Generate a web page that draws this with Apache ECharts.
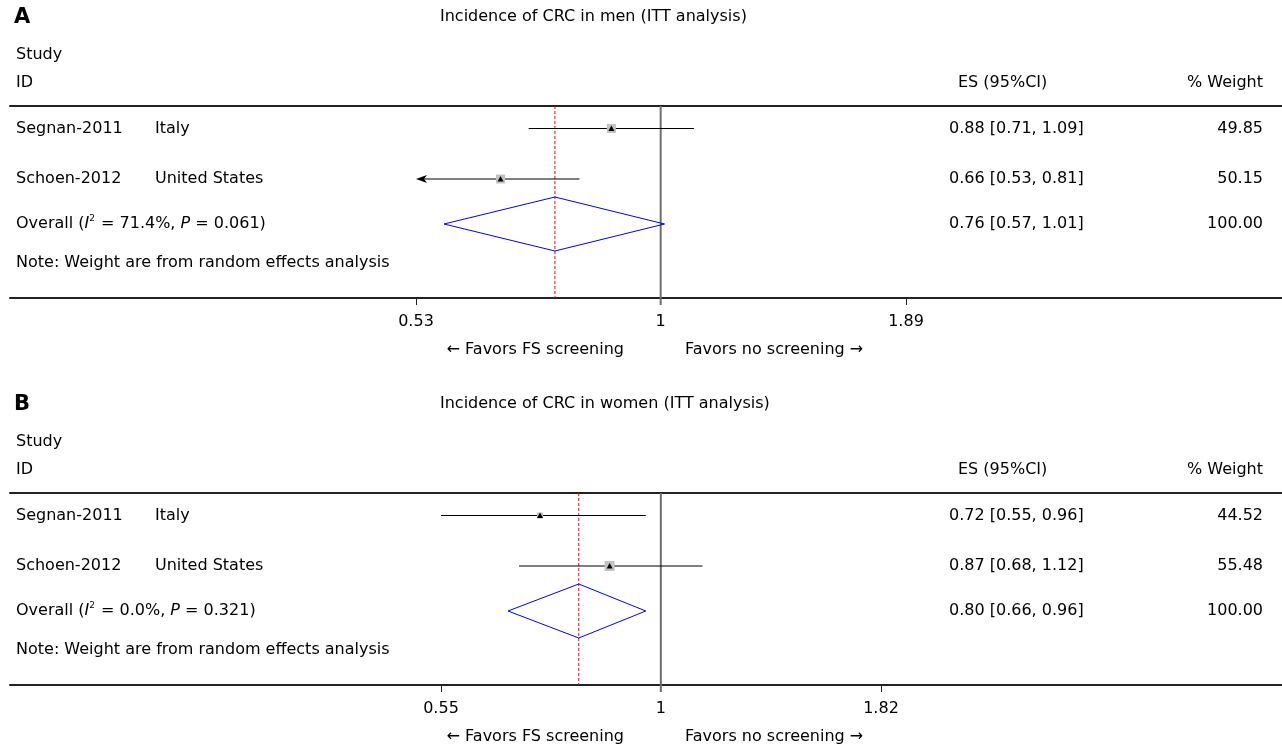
<!DOCTYPE html>
<html><head><meta charset="utf-8">
<script src="https://cdn.jsdelivr.net/npm/echarts@6/dist/echarts.min.js"></script>
<style>html,body{margin:0;padding:0;background:#fff}#c{width:1282px;height:745px}</style>
</head><body><div id="c"></div>
<script>
// ---------------- DATA ----------------
const studies = ['Segnan-2011', 'Schoen-2012'];
const countries = ['Italy', 'United States'];
const panelLetters = ['A', 'B'];
const titles = ['Incidence of CRC in men (ITT analysis)', 'Incidence of CRC in women (ITT analysis)'];

const esA = [0.88, 0.66];
const loA = [0.71, 0.53];
const hiA = [1.09, 0.81];
const weightA = ['49.85', '50.15'];
const arrowLeftA = [false, true];
const overallA = [0.76, 0.57, 1.01];   // ES, lower, upper
const i2A = '71.4%';
const pA = '0.061';
const ticksA = [0.53, 1, 1.89];

const esB = [0.72, 0.87];
const loB = [0.55, 0.68];
const hiB = [0.96, 1.12];
const weightB = ['44.52', '55.48'];
const arrowLeftB = [false, false];
const overallB = [0.80, 0.66, 0.96];
const i2B = '0.0%';
const pB = '0.321';
const ticksB = [0.55, 1, 1.82];

const overallWeight = '100.00';
const headerStudy = 'Study';
const headerID = 'ID';
const headerES = 'ES (95%CI)';
const headerWeight = '% Weight';
const noteText = 'Note: Weight are from random effects analysis';
const favorLeft = '\u2190 Favors FS screening';
const favorRight = 'Favors no screening \u2192';

// ---------------- LAYOUT / STYLE ----------------
const FONT = 'DejaVu Sans';
const FS = 16;
const L = {
  offset: [0, 387],
  gridLeft: 10, gridRight: 0, gridTop: 106, gridH: 192,
  tickPx: [[416, 906], [441, 881]],
  rows: [22.5, 73, 118], note: 157,
  box: [[9, 9], [6, 10]],
  diamondH: 27,
  letterY: 18, titleY: 17, studyY: 55, idY: 83, favorY: 350,
  colStudy: 16, colCountry: 155, colES: 949, colESHead: 958, colW: 1263, titleX: 440
};

const panels = [
  {letter: panelLetters[0], title: titles[0], es: esA, lo: loA, hi: hiA, w: weightA, arrow: arrowLeftA, overall: overallA, i2: i2A, p: pA, ticks: ticksA},
  {letter: panelLetters[1], title: titles[1], es: esB, lo: loB, hi: hiB, w: weightB, arrow: arrowLeftB, overall: overallB, i2: i2B, p: pB, ticks: ticksB}
];

function fmtCI(e, l, h) { return e.toFixed(2) + ' [' + l.toFixed(2) + ', ' + h.toFixed(2) + ']'; }
function txt(text, x, y, align) {
  return {type: 'text', style: {text: text, x: x, y: y, fill: '#000', fontFamily: FONT, fontSize: FS, align: align || 'left', verticalAlign: 'middle'}};
}

const grids = [], xAxes = [], yAxes = [], series = [], graphics = [];

panels.forEach(function (P, k) {
  const off = L.offset[k];
  const tl = Math.log(P.ticks[0]), th = Math.log(P.ticks[2]);
  const px = L.tickPx[k];
  const per = (th - tl) / (px[1] - px[0]);
  const xmin = tl - (px[0] - L.gridLeft) * per;
  const xmax = tl + (1282 - L.gridRight - px[0]) * per;

  grids.push({left: L.gridLeft, right: L.gridRight, top: L.gridTop + off, height: L.gridH});
  xAxes.push({
    gridIndex: k, type: 'value', position: 'bottom', min: xmin, max: xmax,
    axisLine: {show: true, onZero: false, lineStyle: {color: '#222', width: 2}},
    axisTick: {show: true, customValues: [tl, th], length: 7, lineStyle: {color: '#222', width: 1}},
    axisLabel: {show: true, customValues: P.ticks.map(Math.log), margin: 16, color: '#000', fontFamily: FONT, fontSize: FS,
      formatter: function (v) { return String(+Math.exp(v).toFixed(2)); }},
    splitLine: {show: false}
  });
  xAxes.push({
    gridIndex: k, type: 'value', position: 'top', min: xmin, max: xmax,
    axisLine: {show: true, onZero: false, lineStyle: {color: '#222', width: 2}},
    axisTick: {show: false}, axisLabel: {show: false}, splitLine: {show: false}
  });
  yAxes.push({gridIndex: k, type: 'value', min: 0, max: L.gridH, inverse: true, show: false});

  // study rows
  series.push({
    type: 'custom', xAxisIndex: 2 * k, yAxisIndex: k, clip: false, z: 5,
    data: studies.map(function (s, i) { return [i]; }),
    renderItem: function (params, api) {
      const i = api.value(0);
      const y = api.coord([0, L.rows[i]])[1];
      const xe = api.coord([Math.log(P.es[i]), 0])[0];
      const xl = api.coord([Math.log(P.lo[i]), 0])[0];
      const xh = api.coord([Math.log(P.hi[i]), 0])[0];
      const ch = [];
      ch.push({type: 'line', shape: {x1: P.arrow[i] ? xl + 6 : xl, y1: y, x2: xh, y2: y}, style: {stroke: '#000', lineWidth: 1}});
      if (P.arrow[i]) {
        ch.push({type: 'polygon', shape: {points: [[xl, y], [xl + 11, y - 4], [xl + 8, y], [xl + 11, y + 4]]}, style: {fill: '#000'}});
      }
      const b = L.box[k][i];
      ch.push({type: 'rect', shape: {x: xe - b / 2, y: y - b / 2, width: b, height: b}, style: {fill: '#c2c2c2'}});
      ch.push({type: 'polygon', shape: {points: [[xe - 3, y + 2.5], [xe + 3, y + 2.5], [xe, y - 3]]}, style: {fill: '#000'}});
      ch.push(txt(studies[i], L.colStudy, y));
      ch.push(txt(countries[i], L.colCountry, y));
      ch.push(txt(fmtCI(P.es[i], P.lo[i], P.hi[i]), L.colES, y));
      ch.push(txt(P.w[i], L.colW, y, 'right'));
      return {type: 'group', children: ch};
    }
  });

  // overall row, reference lines, note
  series.push({
    type: 'custom', xAxisIndex: 2 * k, yAxisIndex: k, clip: false, z: 4,
    data: [[0]],
    renderItem: function (params, api) {
      const y = api.coord([0, L.rows[2]])[1];
      const yTop = api.coord([0, 0])[1];
      const yBot = api.coord([0, L.gridH])[1];
      const xe = api.coord([Math.log(P.overall[0]), 0])[0];
      const xl = api.coord([Math.log(P.overall[1]), 0])[0];
      const xh = api.coord([Math.log(P.overall[2]), 0])[0];
      const x1 = api.coord([0, 0])[0];
      const ch = [];
      ch.push({type: 'line', shape: {x1: xe, y1: yTop, x2: xe, y2: yBot}, style: {stroke: '#ff0000', lineWidth: 1, lineDash: [3, 2]}});
      ch.push({type: 'line', shape: {x1: x1, y1: yTop, x2: x1, y2: yBot + 7}, style: {stroke: '#6e6e6e', lineWidth: 2}});
      ch.push({type: 'polygon', shape: {points: [[xl, y], [xe, y - L.diamondH], [xh, y], [xe, y + L.diamondH]]}, style: {fill: 'none', stroke: '#0000ff', lineWidth: 1}});
      ch.push({type: 'text', style: {
        text: '{n|Overall (}{i|I}{s|2}{n| = ' + P.i2 + ', }{i|P}{n| = ' + P.p + ')}',
        x: L.colStudy, y: y, verticalAlign: 'middle', align: 'left', fill: '#000', fontFamily: FONT, fontSize: FS,
        rich: {
          n: {fontFamily: FONT, fontSize: FS, fill: '#000', height: 20},
          i: {fontFamily: FONT, fontSize: FS, fontStyle: 'italic', fill: '#000', height: 20},
          s: {fontFamily: FONT, fontSize: 9, fill: '#000', verticalAlign: 'top', height: 20, padding: [0, 1, 10, 0]}
        }
      }});
      ch.push(txt(fmtCI(P.overall[0], P.overall[1], P.overall[2]), L.colES, y));
      ch.push(txt(overallWeight, L.colW, y, 'right'));
      ch.push(txt(noteText, L.colStudy, api.coord([0, L.note])[1]));
      return {type: 'group', children: ch};
    }
  });

  graphics.push({type: 'text', x: 14, y: L.letterY + off, style: {text: P.letter, fill: '#000', fontFamily: FONT, fontSize: 21, fontWeight: 'bold', verticalAlign: 'middle'}});
  graphics.push({type: 'text', x: L.titleX, y: L.titleY + off, style: {text: P.title, fill: '#000', fontFamily: FONT, fontSize: FS, verticalAlign: 'middle'}});
  graphics.push({type: 'text', x: L.colStudy, y: L.studyY + off, style: {text: headerStudy, fill: '#000', fontFamily: FONT, fontSize: FS, verticalAlign: 'middle'}});
  graphics.push({type: 'text', x: L.colStudy, y: L.idY + off, style: {text: headerID, fill: '#000', fontFamily: FONT, fontSize: FS, verticalAlign: 'middle'}});
  graphics.push({type: 'text', x: L.colESHead, y: L.idY + off, style: {text: headerES, fill: '#000', fontFamily: FONT, fontSize: FS, verticalAlign: 'middle'}});
  graphics.push({type: 'text', x: L.colW, y: L.idY + off, style: {text: headerWeight, fill: '#000', fontFamily: FONT, fontSize: FS, align: 'right', verticalAlign: 'middle'}});
  graphics.push({type: 'text', x: 624, y: L.favorY + off, style: {text: favorLeft, fill: '#000', fontFamily: FONT, fontSize: FS, align: 'right', verticalAlign: 'middle'}});
  graphics.push({type: 'text', x: 685, y: L.favorY + off, style: {text: favorRight, fill: '#000', fontFamily: FONT, fontSize: FS, align: 'left', verticalAlign: 'middle'}});
});

const chart = echarts.init(document.getElementById('c'), null, {renderer: 'canvas'});
chart.setOption({
  animation: false,
  backgroundColor: '#fff',
  grid: grids, xAxis: xAxes, yAxis: yAxes, series: series, graphic: graphics
});
</script>
</body></html>
